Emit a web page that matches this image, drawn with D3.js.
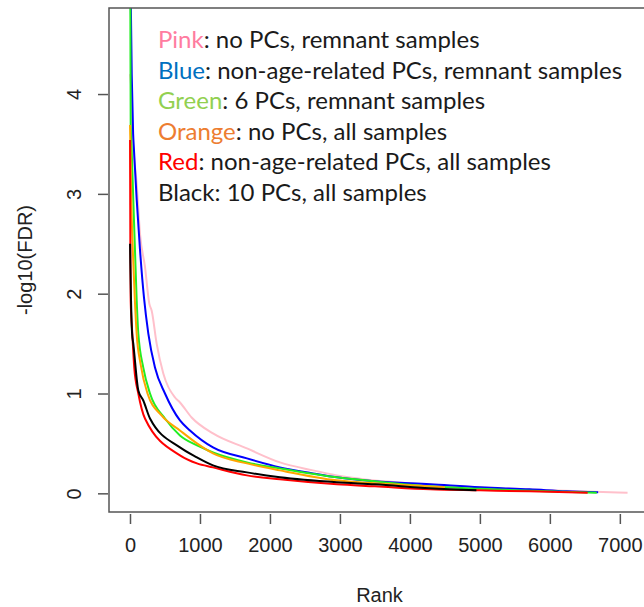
<!DOCTYPE html>
<html><head><meta charset="utf-8">
<script src="https://cdn.jsdelivr.net/npm/d3@7"></script>
<style>body{margin:0;background:#fff}svg{display:block}</style>
</head><body>
<svg id="chart" width="644" height="607"></svg>
<script>
// ---- data ----
const xTicks = [0,1000,2000,3000,4000,5000,6000,7000];
const yTicks = [0,1,2,3,4];
const seriesNames = ["Pink","Blue","Green","Orange","Red","Black"];
const seriesColors = ["pink","blue","#22ee22","orange","red","black"];
const legendColors = ["#ff7ca0","#0070c0","#92d050","#ed7d31","#ff0000","#1a1a1a"];
const legendRest = [": no PCs, remnant samples",": non-age-related PCs, remnant samples",": 6 PCs, remnant samples",": no PCs, all samples",": non-age-related PCs, all samples",": 10 PCs, all samples"];

const pinkRank  = [1,20,30,60,96,143,214,276,310,381,476,643,714,881,1186,1671,2143,2614,2957,3810,5000,6000,7110];
const pinkValue = [4.2,4.0,3.7,3.35,3.1,2.6,2.27,1.9,1.83,1.5,1.2,0.96,0.91,0.76,0.6,0.45,0.31,0.23,0.18,0.11,0.06,0.03,0.005];
const blueRank  = [1,25,45,57,96,143,200,262,357,500,714,857,1186,1671,2143,2614,2957,3500,4290,5000,5710,6240,6690];
const blueValue = [5.5,4.19,3.6,3.44,2.94,2.44,1.96,1.6,1.26,1.0,0.73,0.63,0.46,0.35,0.26,0.2,0.16,0.12,0.09,0.06,0.04,0.02,0.01];
const greenRank  = [1,5,10,24,47,71,96,119,190,286,500,714,957,1186,1671,2143,2957,3500,4290,5000,5960,6670];
const greenValue = [5.2,4.9,3.69,3.44,2.94,2.44,1.93,1.6,1.26,1.0,0.75,0.58,0.48,0.41,0.31,0.25,0.16,0.12,0.07,0.045,0.02,0.005];
const orangeRank  = [1,10,20,40,70,95,150,250,450,714,957,1186,1671,2143,2957,3500,4500];
const orangeValue = [3.69,3.3,2.9,2.44,1.93,1.6,1.3,1.0,0.78,0.63,0.5,0.4,0.3,0.23,0.13,0.1,0.06];
const redRank  = [1,3,5,10,33,61,119,214,714,957,1186,1671,2143,2957,3500,4290,5000,5710,6540];
const redValue = [3.54,3.0,2.5,1.93,1.6,1.26,1.0,0.75,0.38,0.3,0.26,0.18,0.14,0.09,0.07,0.04,0.03,0.02,0.005];
const blackRank  = [1,5,15,30,47,119,190,286,714,957,1186,1671,2143,2957,3500,4290,4950];
const blackValue = [2.5,2.3,1.93,1.6,1.5,1.03,0.93,0.75,0.46,0.36,0.28,0.21,0.16,0.11,0.09,0.05,0.03];

const ranks = [pinkRank,blueRank,greenRank,orangeRank,redRank,blackRank];
const values = [pinkValue,blueValue,greenValue,orangeValue,redValue,blackValue];

// ---- layout ----
const svg = d3.select("#chart");
const L = 109, T = 8, R = 654, B = 512;
const FONT = "'Liberation Sans', Arial, sans-serif";
const x = d3.scaleLinear().domain([-300, 7488]).range([L, R]);
const y = d3.scaleLinear().domain([-0.187, 4.862]).range([B, T]);

svg.append("defs").append("clipPath").attr("id","clip")
  .append("rect").attr("x",L).attr("y",T).attr("width",R-L).attr("height",B-T);

const line = d3.line().x(d=>x(d[0])).y(d=>y(d[1])).curve(d3.curveMonotoneX);
const g = svg.append("g").attr("clip-path","url(#clip)");
ranks.forEach((r,i)=>{
  const pts = r.map((v,j)=>[v, values[i][j]]);
  g.append("path").attr("d", line(pts)).attr("fill","none")
    .attr("stroke", seriesColors[i]).attr("stroke-width", 2);
});

// frame
svg.append("rect").attr("x",L).attr("y",T).attr("width",R-L).attr("height",B-T)
  .attr("fill","none").attr("stroke","#555").attr("stroke-width",1.5);

// x axis
const xAxis = d3.axisBottom(x).tickValues(xTicks).tickSize(10).tickPadding(14).tickFormat(d3.format("d"));
const gx = svg.append("g").attr("transform",`translate(0,${B+2})`).call(xAxis);
gx.select(".domain").remove();
gx.selectAll("line").attr("stroke","#555").attr("stroke-width",1.5);
gx.selectAll("text").attr("font-family",FONT).attr("font-size",20).attr("fill","#222");

// y axis
const yAxis = d3.axisLeft(y).tickValues(yTicks).tickSize(10).tickFormat(d3.format("d"));
const gy = svg.append("g").attr("transform",`translate(${L-1},0)`).call(yAxis);
gy.select(".domain").remove();
gy.selectAll("line").attr("stroke","#555").attr("stroke-width",1.5);
gy.selectAll("text").attr("font-family",FONT).attr("font-size",20).attr("fill","#222")
  .attr("x",0).attr("dy",null)
  .attr("transform", d=>`translate(${74-(L-1)},0) rotate(-90)`)
  .attr("text-anchor","middle").attr("dominant-baseline","central");

// axis titles
svg.append("text").attr("x",(L+R)/2 - 2).attr("y",602).attr("text-anchor","middle")
  .attr("font-family",FONT).attr("font-size",20).attr("fill","#222").text("Rank");
svg.append("text").attr("transform","translate(25,260) rotate(-90)").attr("text-anchor","middle")
  .attr("dominant-baseline","central")
  .attr("font-family",FONT).attr("font-size",20).attr("fill","#222").text("-log10(FDR)");

// legend
const leg = svg.append("g");
seriesNames.forEach((n,i)=>{
  const t = leg.append("text").attr("x",158).attr("y",48 + i*30.6)
    .attr("font-family","Lato, 'Open Sans', sans-serif").attr("font-size",24);
  t.append("tspan").attr("fill",legendColors[i]).text(n);
  t.append("tspan").attr("fill","#1a1a1a").text(legendRest[i]);
});
</script>
</body></html>
